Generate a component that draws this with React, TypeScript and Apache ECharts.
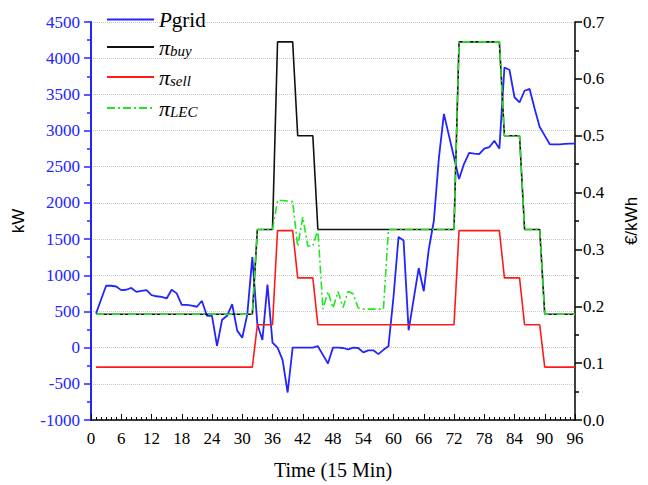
import React, { useEffect, useRef } from 'react';
import * as echarts from 'echarts';

// time index (15-min slots)
const times: number[] = Array.from({ length: 96 }, (_, i) => i + 1);

// grid power, kW
const pGrid: number[] = [
  470, 665, 855, 855, 845, 795, 800, 825,
  770, 785, 795, 725, 710, 700, 680, 800,
  750, 590, 590, 580, 565, 645, 440, 440,
  25, 385, 440, 600, 235, 137, 460, 1250,
  320, 105, 870, 70, 0, -170, -620, 0,
  0, 0, 0, 0, 20, -100, -220, 0,
  0, -5, -23, 0, -5, -65, -37, -37,
  -90, -30, 20, 700, 1530, 1480, 240, 670,
  1100, 780, 1360, 1750, 2620, 3230, 2930, 2630,
  2330, 2540, 2690, 2680, 2675, 2750, 2770, 2860,
  2750, 3870, 3840, 3460, 3390, 3550, 3575, 3300,
  3050, 2930, 2810, 2810, 2810, 2815, 2818, 2820,
];

// buy price, EUR/kWh
const piBuy: number[] = [
  0.186, 0.186, 0.186, 0.186, 0.186, 0.186, 0.186, 0.186,
  0.186, 0.186, 0.186, 0.186, 0.186, 0.186, 0.186, 0.186,
  0.186, 0.186, 0.186, 0.186, 0.186, 0.186, 0.186, 0.186,
  0.186, 0.186, 0.186, 0.186, 0.186, 0.186, 0.186, 0.186,
  0.335, 0.335, 0.335, 0.335, 0.665, 0.665, 0.665, 0.665,
  0.5, 0.5, 0.5, 0.5, 0.335, 0.335, 0.335, 0.335,
  0.335, 0.335, 0.335, 0.335, 0.335, 0.335, 0.335, 0.335,
  0.335, 0.335, 0.335, 0.335, 0.335, 0.335, 0.335, 0.335,
  0.335, 0.335, 0.335, 0.335, 0.335, 0.335, 0.335, 0.335,
  0.665, 0.665, 0.665, 0.665, 0.665, 0.665, 0.665, 0.665,
  0.665, 0.5, 0.5, 0.5, 0.5, 0.335, 0.335, 0.335,
  0.335, 0.186, 0.186, 0.186, 0.186, 0.186, 0.186, 0.186,
];

// sell price, EUR/kWh
const piSell: number[] = [
  0.093, 0.093, 0.093, 0.093, 0.093, 0.093, 0.093, 0.093,
  0.093, 0.093, 0.093, 0.093, 0.093, 0.093, 0.093, 0.093,
  0.093, 0.093, 0.093, 0.093, 0.093, 0.093, 0.093, 0.093,
  0.093, 0.093, 0.093, 0.093, 0.093, 0.093, 0.093, 0.093,
  0.1675, 0.1675, 0.1675, 0.1675, 0.333, 0.333, 0.333, 0.333,
  0.25, 0.25, 0.25, 0.25, 0.1675, 0.1675, 0.1675, 0.1675,
  0.1675, 0.1675, 0.1675, 0.1675, 0.1675, 0.1675, 0.1675, 0.1675,
  0.1675, 0.1675, 0.1675, 0.1675, 0.1675, 0.1675, 0.1675, 0.1675,
  0.1675, 0.1675, 0.1675, 0.1675, 0.1675, 0.1675, 0.1675, 0.1675,
  0.333, 0.333, 0.333, 0.333, 0.333, 0.333, 0.333, 0.333,
  0.333, 0.25, 0.25, 0.25, 0.25, 0.1675, 0.1675, 0.1675,
  0.1675, 0.093, 0.093, 0.093, 0.093, 0.093, 0.093, 0.093,
];

// local energy community price, EUR/kWh
const piLEC: number[] = [
  0.186, 0.186, 0.186, 0.186, 0.186, 0.186, 0.186, 0.186,
  0.186, 0.186, 0.186, 0.186, 0.186, 0.186, 0.186, 0.186,
  0.186, 0.186, 0.186, 0.186, 0.186, 0.186, 0.186, 0.186,
  0.186, 0.186, 0.186, 0.186, 0.186, 0.186, 0.186, 0.186,
  0.335, 0.335, 0.335, 0.335, 0.386, 0.386, 0.385, 0.384,
  0.305, 0.357, 0.306, 0.306, 0.335, 0.195, 0.226, 0.197,
  0.226, 0.198, 0.226, 0.222, 0.197, 0.195, 0.195, 0.195,
  0.195, 0.195, 0.335, 0.335, 0.335, 0.335, 0.335, 0.335,
  0.335, 0.335, 0.335, 0.335, 0.335, 0.335, 0.335, 0.335,
  0.665, 0.665, 0.665, 0.665, 0.665, 0.665, 0.665, 0.665,
  0.665, 0.5, 0.5, 0.5, 0.5, 0.335, 0.335, 0.335,
  0.335, 0.186, 0.186, 0.186, 0.186, 0.186, 0.186, 0.186,
];

const SERIF = 'Liberation Serif';
const SANS = 'Liberation Sans';
const BLUE = '#2424ff';
const GREEN = '#22e622';

const legendRich = {
  i: { fontFamily: SERIF, fontSize: 21, fontStyle: 'italic', color: '#000', lineHeight: 22 },
  n: { fontFamily: SERIF, fontSize: 21, color: '#000', lineHeight: 22 },
  p: { fontFamily: SERIF, fontSize: 22, fontStyle: 'italic', color: '#000', lineHeight: 22 },
  s: { fontFamily: SERIF, fontSize: 15, fontStyle: 'italic', color: '#000', lineHeight: 22, verticalAlign: 'bottom', padding: [14, 0, 0, 0] },
};

const legendLabels: Record<string, string> = {
  Pgrid: '{i|P}{n|grid}',
  buy: '{p|π}{s|buy}',
  sell: '{p|π}{s|sell}',
  LEC: '{p|π}{s|LEC}',
};

function makeLegend(name: string, top: number) {
  return {
    data: [name],
    left: 101,
    top,
    itemWidth: 47,
    itemHeight: 14,
    selectedMode: false,
    itemStyle: { opacity: 0 },
    formatter: (n: string) => legendLabels[n],
    textStyle: { rich: legendRich, fontFamily: SERIF },
  };
}

const tickRich = (color: string) => ({
  t: { fontFamily: SERIF, fontSize: 17, color },
});

export default function App() {
  const ref = useRef<HTMLDivElement>(null);
  useEffect(() => {
    if (!ref.current) return;
    const chart = echarts.init(ref.current, undefined, { renderer: 'svg' });
    const pair = (arr: number[]) => times.map((t, i) => [t, arr[i]]);
    chart.setOption({
      animation: false,
      backgroundColor: '#ffffff',
      textStyle: { fontFamily: SERIF },
      grid: { left: 91, right: 60, top: 22, bottom: 62 },
      legend: [
        makeLegend('Pgrid', 4),
        makeLegend('buy', 24),
        makeLegend('sell', 54),
        makeLegend('LEC', 85),
      ],
      xAxis: {
        type: 'value',
        min: 0,
        max: 96,
        interval: 6,
        name: 'Time (15 Min)',
        nameLocation: 'middle',
        nameGap: 40,
        nameTextStyle: { fontFamily: SERIF, fontSize: 20, color: '#000' },
        axisLine: { onZero: false, lineStyle: { color: '#000', width: 1.5 } },
        axisTick: { inside: true, length: 6, lineStyle: { color: '#000', width: 1 } },
        minorTick: { show: true, splitNumber: 6, length: 3, lineStyle: { color: '#000', width: 1 } },
        axisLabel: {
          fontFamily: SERIF, fontSize: 17, color: '#000', margin: 10,
          formatter: (v: number) => `{t|${v}}`, rich: tickRich('#000'),
        },
        splitLine: { show: false },
      },
      yAxis: [
        {
          type: 'value',
          min: -1000,
          max: 4500,
          interval: 500,
          position: 'left',
          name: 'kW',
          nameLocation: 'middle',
          nameRotate: 90,
          nameGap: 64,
          nameTextStyle: { fontFamily: SANS, fontSize: 17, color: '#000' },
          axisLine: { show: true, onZero: false, lineStyle: { color: BLUE, width: 2 } },
          axisTick: { show: true, length: 7, lineStyle: { color: BLUE, width: 1.5 } },
          minorTick: { show: true, splitNumber: 2, length: 4, lineStyle: { color: BLUE, width: 1.5 } },
          axisLabel: {
            fontFamily: SERIF, fontSize: 17, color: BLUE, margin: 11,
            formatter: (v: number) => `{t|${v}}`, rich: tickRich(BLUE),
          },
          splitLine: { show: true, lineStyle: { color: '#c8c8c8', type: 'dotted', width: 1 } },
        },
        {
          type: 'value',
          min: 0,
          max: 0.7,
          interval: 0.1,
          position: 'right',
          name: '€/kWh',
          nameLocation: 'middle',
          nameRotate: 90,
          nameGap: 48,
          nameTextStyle: { fontFamily: SANS, fontSize: 17, color: '#000' },
          axisLine: { show: true, onZero: false, lineStyle: { color: '#000', width: 1.5 } },
          axisTick: { show: true, length: 7, lineStyle: { color: '#000', width: 1.5 } },
          minorTick: { show: true, splitNumber: 2, length: 4, lineStyle: { color: '#000', width: 1.5 } },
          axisLabel: {
            fontFamily: SERIF, fontSize: 17, color: '#000', margin: 8,
            formatter: (v: number) => `{t|${v.toFixed(1)}}`, rich: tickRich('#000'),
          },
          splitLine: { show: false },
        },
      ],
      series: [
        {
          name: 'Pgrid', type: 'line', yAxisIndex: 0, symbol: 'none',
          lineStyle: { color: BLUE, width: 1.8 }, itemStyle: { color: BLUE },
          data: pair(pGrid),
        },
        {
          name: 'buy', type: 'line', yAxisIndex: 1, symbol: 'none',
          lineStyle: { color: '#111', width: 1.6 }, itemStyle: { color: '#111' },
          data: pair(piBuy),
        },
        {
          name: 'sell', type: 'line', yAxisIndex: 1, symbol: 'none',
          lineStyle: { color: '#ff1a1a', width: 1.6 }, itemStyle: { color: '#ff1a1a' },
          data: pair(piSell),
        },
        {
          name: 'LEC', type: 'line', yAxisIndex: 1, symbol: 'none',
          lineStyle: { color: GREEN, width: 1.6, type: [8, 3, 2, 3] }, itemStyle: { color: GREEN },
          data: pair(piLEC),
        },
      ],
    });
    return () => chart.dispose();
  }, []);
  return (
    <div
      ref={ref}
      style={{ position: 'fixed', left: 0, top: 0, width: 648, height: 485, background: '#fff' }}
    />
  );
}
